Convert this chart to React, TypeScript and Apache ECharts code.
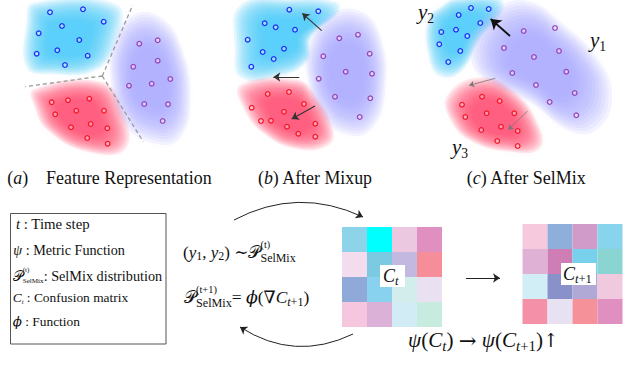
import React, { useEffect, useRef } from "react";
import * as echarts from "echarts";

// ---------------- data ----------------
// panel (a) Feature Representation – local coordinates (px inside a 210x150 panel)
const aBlue = [[50, 12.3], [83, 9.3], [62, 26], [103.7, 21.7], [38.7, 33.3], [79.3, 40], [36.7, 53.7], [57.3, 50.3], [87.7, 55.7], [65, 65]];
const aPurple = [[139.3, 43.7], [157.7, 40.3], [157.7, 60.7], [133.3, 66.7], [170.3, 79], [151.7, 83.7], [129, 85.7], [144.3, 104], [168, 104.3], [162.7, 121]];
const aRed = [[51.7, 102.3], [68, 100.3], [89.3, 98.7], [76.3, 110.7], [104, 110.7], [55.3, 114.3], [71, 127.3], [90.7, 124], [107.3, 128.3], [87.3, 138], [107.7, 143.7]];
// panel (b) After Mixup
const bBlue = [[79.3, 9.7], [108.3, 11.3], [54.7, 23.3], [65.7, 27.3], [85, 29.7], [37.7, 39.7], [52.7, 52], [74, 48.7], [63.7, 59], [41.3, 66.7]];
const bPurple = [[129.3, 38.3], [148, 34.7], [159.7, 53.7], [113.3, 56.3], [135.7, 71.7], [162, 73.7], [108.7, 78.7], [125, 96.7], [160.3, 98.3], [149.7, 117]];
const bRed = [[57.7, 94], [79, 92], [94, 104], [41.7, 107.7], [74, 111.7], [51, 121], [61, 120.7], [77, 126.7], [105.3, 123.7], [88.3, 133.7], [105.3, 136.7]];
// panel (c) After SelMix
const cBlue = [[51, 8], [68.7, 9], [38.7, 15], [60.3, 23], [21.3, 32], [36, 29.7], [47.3, 36], [19.3, 44.3], [40.3, 51], [28.3, 62]];
const cPurple = [[103.7, 31], [135, 28], [84, 48], [139, 51], [114, 57], [92.3, 73], [146.3, 71.7], [116, 85], [154.7, 93], [129.7, 102], [156.3, 115.3]];
const cRed = [[62, 96.7], [79.7, 101], [42, 104.7], [66.7, 113.3], [94.3, 113.3], [45.3, 117], [81, 126.7], [61.3, 130], [97.7, 131], [77.3, 141], [97.7, 146]];

// soft cluster regions (outlines)
const aBlobBlue = [[35, 5], [114, 7], [114, 40], [95, 68], [50, 72], [29, 66], [29, 22]];
const aBlobPurple = [[135, 18], [160, 21], [180, 50], [188, 100], [178, 135], [155, 140], [125, 121], [113, 80], [117, 40]];
const aBlobRed = [[36, 91], [100, 84], [120, 110], [123, 147], [88, 150], [50, 130], [37, 107]];
const bBlobBlue = [[33, 7], [83, 1], [123, 4], [126, 13], [100, 37], [96, 60], [66, 75], [33, 75], [28, 50]];
const bBlobPurple = [[120, 18], [150, 15], [169, 40], [173, 90], [161, 125], [140, 132], [114, 115], [100, 80], [102, 44]];
const bBlobRed = [[33, 87], [87, 82], [104, 97], [120, 127], [117, 143], [87, 147], [56, 133], [37, 110]];
const cBlobBlue = [[23, 7], [37, 0], [77, 0], [80, 13], [60, 37], [40, 70], [20, 73], [10, 53], [10, 20]];
const cBlobPurple = [[80, 10], [110, 5], [140, 25], [175, 60], [188, 95], [175, 125], [150, 128], [110, 100], [70, 80], [55, 60], [60, 30]];
const cBlobRed = [[30, 97], [60, 80], [93, 93], [117, 127], [117, 147], [90, 150], [53, 140], [33, 120]];

// dashed separators in (a): centre and three ends
const aDashCentre = [102.3, 76];
const aDashEnds = [[132.7, 5], [25.3, 86.7], [143.3, 141.7]];

// arrows (tail, head)
const bArrows = [[[111.7, 30.7], [92.3, 13.3]], [[89.3, 77], [63.3, 77]], [[105, 106], [81.7, 119]]];
const cArrowMain = [[90, 36], [70.7, 19]];
const cArrowsThin = [[[75.3, 78.3], [49.3, 85.3]], [[107.7, 111], [88.3, 129.7]]];

// confusion matrices
const ctColors = [
  ["#8dd3ea", "#00ffff", "#ebc8e0", "#df8fc0"],
  ["#f3dced", "#7cc9e2", "#c3b9e0", "#f58e98"],
  ["#8fa9d9", "#88d2f0", "#d3ecec", "#e9e1f1"],
  ["#f5c6dd", "#dbb1d8", "#d1ecf4", "#c7ecdf"],
];
const ct1Colors = [
  ["#f6c9dd", "#8faed9", "#d09bc9", "#88d4ec"],
  ["#dfb2d5", "#cf7db5", "#77d0ec", "#8ad5d2"],
  ["#d1edf5", "#8891c9", "#b0a9d5", "#f1c9de"],
  ["#f590a9", "#e8e1f1", "#f59199", "#df90c1"],
];

// page-level arrows (page pixel space)
const topCurve = [[234, 220], [363, 217]];
const bottomCurve = [[353, 334], [240, 327]];
const matrixArrow = [[466, 278], [500, 278]];

// ---------------- styles ----------------
const FAMILY = "Liberation Serif";
const MATHFAM = "DejaVu Serif";
const POINT_COLORS = ["#1f30f5", "#9a45b4", "#f5172c"];
const BLOB_RGB = ["80,198,246", "165,160,252", "255,75,110"];
const BLOB_ALPHA = [0.13, 0.11, 0.12];

type Run = { t: string; i?: boolean; s?: number; dy?: number; stack?: boolean; k?: number; fam?: string };

let measureCtx: CanvasRenderingContext2D | null = null;
function textWidth(t: string, font: string) {
  if (!measureCtx) measureCtx = document.createElement("canvas").getContext("2d");
  measureCtx!.font = font;
  return measureCtx!.measureText(t).width;
}
function fontOf(r: Run, base: number) {
  return `${r.i ? "italic " : ""}${(base * (r.s ?? 1)).toFixed(2)}px "${r.fam ?? FAMILY}"`;
}
function layout(runs: Run[], base: number) {
  let cx = 0;
  let prevStart = 0;
  const out: { r: Run; x: number; size: number }[] = [];
  for (const r of runs) {
    const w = textWidth(r.t, fontOf(r, base));
    const start = r.stack ? prevStart : cx + (r.k ?? 0) * base;
    out.push({ r, x: start, size: base * (r.s ?? 1) });
    cx = r.stack ? Math.max(cx, start + w) : start + w;
    prevStart = start;
  }
  return { out, width: cx };
}
function mathText(x: number, yMid: number, runs: Run[], base: number, width?: number, fill = "#111") {
  let b = base;
  if (width) {
    const w0 = layout(runs, base).width;
    b = (base * width) / w0;
  }
  const { out } = layout(runs, b);
  return out.map(({ r, x: rx, size }) => ({
    type: "text",
    x: x + rx,
    y: yMid + (r.dy ?? 0) * b,
    z: 100,
    silent: true,
    style: {
      text: r.t,
      fontFamily: r.fam ?? FAMILY,
      fontSize: Number(size.toFixed(2)),
      fontStyle: r.i ? "italic" : "normal",
      fontWeight: "normal",
      fill,
      textAlign: "left",
      textVerticalAlign: "middle",
      align: "left",
      verticalAlign: "middle",
    },
  }));
}

function blobSeries(g: number, blobs: number[][][]) {
  return {
    type: "custom",
    xAxisIndex: g,
    yAxisIndex: g,
    z: 1,
    silent: true,
    clip: false,
    data: blobs.map((_, i) => [i, 0]),
    renderItem: (params: any, api: any) => {
      const k = params.dataIndex;
      const pts: number[][] = blobs[k].map((p) => api.coord(p));
      const cx = pts.reduce((s, p) => s + p[0], 0) / pts.length;
      const cy = pts.reduce((s, p) => s + p[1], 0) / pts.length;
      const children = [];
      const layers = 13;
      for (let j = 0; j < layers; j++) {
        const sc = 1.06 - j * 0.048;
        children.push({
          type: "polygon",
          shape: { points: pts.map((p) => [cx + (p[0] - cx) * sc, cy + (p[1] - cy) * sc]), smooth: 0.45 },
          style: {
            fill: `rgba(${BLOB_RGB[k]},${BLOB_ALPHA[k]})`,
            shadowBlur: 7,
            shadowColor: `rgba(${BLOB_RGB[k]},${BLOB_ALPHA[k]})`,
          },
        });
      }
      return { type: "group", children };
    },
  };
}
function scatterSeries(g: number, data: number[][], k: number) {
  return {
    type: "scatter",
    xAxisIndex: g,
    yAxisIndex: g,
    z: 3,
    silent: true,
    symbol: "circle",
    symbolSize: 4.6,
    data,
    itemStyle: { color: "rgba(255,255,255,0.35)", borderColor: POINT_COLORS[k], borderWidth: 1.3, opacity: 1 },
  };
}
function arrowSeries(g: number, segs: number[][][], color: string, width: number, size: number, curv = 0) {
  return {
    type: "lines",
    coordinateSystem: "cartesian2d",
    xAxisIndex: g,
    yAxisIndex: g,
    z: 4,
    silent: true,
    symbol: ["none", "arrow"],
    symbolSize: size,
    data: segs.map((s) => ({ coords: s })),
    lineStyle: { color, width, opacity: 1, curveness: curv },
  };
}
function matrixSeries(g: number, colors: string[][]) {
  const cells: number[][] = [];
  colors.forEach((row, r) => row.forEach((_, c) => cells.push([c, r])));
  return {
    type: "custom",
    xAxisIndex: g,
    yAxisIndex: g,
    z: 2,
    silent: true,
    data: cells,
    renderItem: (_: any, api: any) => {
      const c = api.value(0);
      const r = api.value(1);
      const a = api.coord([c, r]);
      const b = api.coord([c + 1, r + 1]);
      return {
        type: "rect",
        shape: { x: Math.min(a[0], b[0]), y: Math.min(a[1], b[1]), width: Math.abs(b[0] - a[0]), height: Math.abs(b[1] - a[1]) },
        style: { fill: colors[r][c] },
      };
    },
  };
}

export default function App() {
  const ref = useRef<HTMLDivElement>(null);
  useEffect(() => {
    document.body.style.margin = "0";
    if (!ref.current) return;
    const chart = echarts.init(ref.current, null, { renderer: "svg" });

    const grids = [
      { left: 0, top: 0, width: 210, height: 150, x: [0, 210], y: [0, 150] },
      { left: 210, top: 0, width: 210, height: 150, x: [0, 210], y: [0, 150] },
      { left: 420, top: 0, width: 210, height: 150, x: [0, 210], y: [0, 150] },
      { left: 342, top: 227, width: 100, height: 100, x: [0, 4], y: [0, 4] },
      { left: 522.5, top: 224, width: 100, height: 100, x: [0, 4], y: [0, 4] },
      { left: 0, top: 0, width: 630, height: 365, x: [0, 630], y: [0, 365] },
    ];

    const P = "𝒫";
    const graphics: any[] = [
      // legend box
      { type: "rect", z: 90, silent: true, shape: { x: 10.5, y: 213.5, width: 155.5, height: 130.5 }, style: { fill: "#fff", stroke: "#555", lineWidth: 1 } },
      // label boxes on matrices
      { type: "rect", z: 95, silent: true, shape: { x: 380, y: 265, width: 25, height: 22 }, style: { fill: "#fff" } },
      { type: "rect", z: 95, silent: true, shape: { x: 561, y: 263, width: 35, height: 22 }, style: { fill: "#fff" } },
      // captions
      ...mathText(7.3, 178, [{ t: "(" }, { t: "a", i: true }, { t: ")" }, { t: "Feature Representation", k: 1.0 }], 17, 204.4),
      ...mathText(258, 178, [{ t: "(" }, { t: "b", i: true }, { t: ")" }, { t: " After Mixup" }], 17, 115),
      ...mathText(466.7, 178, [{ t: "(" }, { t: "c", i: true }, { t: ")" }, { t: " After SelMix" }], 17, 120),
      // class labels in (c)
      ...mathText(418, 12, [{ t: "y", i: true }, { t: "2", s: 0.65, dy: 0.3 }], 21),
      ...mathText(590, 40, [{ t: "y", i: true }, { t: "1", s: 0.65, dy: 0.3 }], 21),
      ...mathText(452, 147, [{ t: "y", i: true }, { t: "3", s: 0.65, dy: 0.3 }], 21),
      // legend lines
      ...mathText(16, 224.3, [{ t: "t", i: true }, { t: " : Time step" }], 13.5, 74),
      ...mathText(13.3, 250, [{ t: "ψ", i: true }, { t: " : Metric Function" }], 13.5, 111.7),
      ...mathText(12.7, 276, [{ t: P, fam: MATHFAM }, { t: "(t)", s: 0.5, dy: -0.42 }, { t: "SelMix", s: 0.5, dy: 0.35, stack: true }, { t: ": SelMix distribution" }], 13.5, 150),
      ...mathText(12.7, 297.3, [{ t: "C", i: true }, { t: "t", i: true, s: 0.5, dy: 0.35 }, { t: " : Confusion matrix" }], 13.5, 115.6),
      ...mathText(12.7, 321.7, [{ t: "ϕ", i: true, fam: MATHFAM }, { t: " : Function" }], 13.5, 67.3),
      // middle formulas
      ...mathText(183, 252, [
        { t: "(" }, { t: "y", i: true }, { t: "1", s: 0.7, dy: 0.25 }, { t: ", " }, { t: "y", i: true }, { t: "2", s: 0.7, dy: 0.25 },
        { t: ") " }, { t: "∼", fam: MATHFAM }, { t: P, fam: MATHFAM }, { t: "(t)", s: 0.6, dy: -0.45 }, { t: "SelMix", s: 0.7, dy: 0.35, stack: true },
      ], 18, 113),
      ...mathText(184, 297, [
        { t: P, fam: MATHFAM }, { t: "(t+1)", s: 0.6, dy: -0.45 }, { t: "SelMix", s: 0.7, dy: 0.35, stack: true },
        { t: "= " }, { t: "ϕ", i: true, fam: MATHFAM }, { t: "(" }, { t: "∇", fam: MATHFAM }, { t: "C", i: true }, { t: "t", i: true, s: 0.7, dy: 0.3 }, { t: "+1", s: 0.7, dy: 0.3 }, { t: ")" },
      ], 18, 126),
      // matrix labels
      ...mathText(383, 276, [{ t: "C", i: true }, { t: "t", i: true, s: 0.7, dy: 0.3 }], 18),
      ...mathText(563, 274, [{ t: "C", i: true }, { t: "t", i: true, s: 0.7, dy: 0.3 }, { t: "+1", s: 0.7, dy: 0.3 }], 18),
      // bottom formula
      ...mathText(408, 340, [
        { t: "ψ", i: true }, { t: "(" }, { t: "C", i: true }, { t: "t", i: true, s: 0.7, dy: 0.3 }, { t: ") " }, { t: "→", fam: MATHFAM }, { t: " " },
        { t: "ψ", i: true }, { t: "(" }, { t: "C", i: true }, { t: "t", i: true, s: 0.7, dy: 0.3 }, { t: "+1", s: 0.7, dy: 0.3 }, { t: ")" }, { t: "↑", s: 0.9, fam: MATHFAM },
      ], 19, 151),
    ];

    const option: any = {
      animation: false,
      grid: grids.map((g) => ({ left: g.left, top: g.top, width: g.width, height: g.height, containLabel: false })),
      xAxis: grids.map((g, i) => ({ type: "value", gridIndex: i, min: g.x[0], max: g.x[1], show: false })),
      yAxis: grids.map((g, i) => ({ type: "value", gridIndex: i, min: g.y[0], max: g.y[1], inverse: true, show: false })),
      series: [
        blobSeries(0, [aBlobBlue, aBlobPurple, aBlobRed]),
        blobSeries(1, [bBlobBlue, bBlobPurple, bBlobRed]),
        blobSeries(2, [cBlobBlue, cBlobPurple, cBlobRed]),
        {
          type: "lines", coordinateSystem: "cartesian2d", xAxisIndex: 0, yAxisIndex: 0, z: 2, silent: true,
          data: aDashEnds.map((e) => ({ coords: [aDashCentre, e] })),
          lineStyle: { color: "#9a9a9a", width: 1.3, type: [4, 3], opacity: 1 },
        },
        scatterSeries(0, aBlue, 0), scatterSeries(0, aPurple, 1), scatterSeries(0, aRed, 2),
        scatterSeries(1, bBlue, 0), scatterSeries(1, bPurple, 1), scatterSeries(1, bRed, 2),
        scatterSeries(2, cBlue, 0), scatterSeries(2, cPurple, 1), scatterSeries(2, cRed, 2),
        arrowSeries(1, bArrows, "#333", 1.1, 7),
        arrowSeries(2, [cArrowMain], "#111", 1.8, 10),
        arrowSeries(2, cArrowsThin, "#777", 0.8, 5),
        matrixSeries(3, ctColors),
        matrixSeries(4, ct1Colors),
        arrowSeries(5, [topCurve], "#222", 1, 7, 0.25),
        arrowSeries(5, [bottomCurve], "#222", 1, 7, 0.28),
        arrowSeries(5, [matrixArrow], "#222", 1, 7, 0),
      ],
      graphic: graphics,
    };
    chart.setOption(option);
    return () => chart.dispose();
  }, []);
  return <div ref={ref} style={{ width: 630, height: 365 }} />;
}
